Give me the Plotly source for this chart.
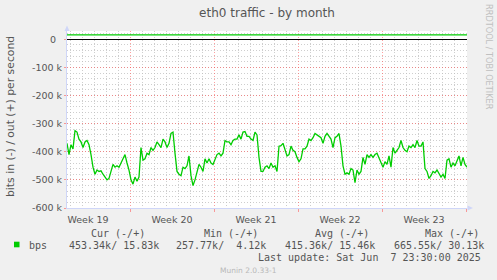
import pandas as pd
import plotly.graph_objects as go

# ---------------- data ----------------
title_text = "eth0 traffic - by month"
y_title = "bits in (-) / out (+) per second"
series_name = "bps"
series_color = "#00CC00"

start_time = "2025-05-06 18:00"   # first sample (4-hour consolidation)
step = "4h"
x_range = ["2025-05-06 18:00", "2025-06-09 02:00"]
week_tick0 = "2025-05-05"

# inbound (drawn negative), in kbit/s
bps_in_k = [
    -370, -410, -375, -390, -325, -330, -355, -365, -385, -365,
    -360, -375, -410, -455, -480, -465, -470, -468, -480, -490,
    -500, -495, -470, -445, -455, -450, -455, -440, -430, -410,
    -440, -465, -500, -515, -490, -505, -490, -385, -430, -425,
    -405, -410, -385, -395, -385, -365, -375, -385, -355, -365,
    -385, -370, -335, -330, -405, -470, -480, -485, -455, -460,
    -450, -415, -485, -520, -500, -475, -445, -455, -470, -425,
    -440, -425, -440, -445, -430, -410, -405, -415, -405, -360,
    -365, -365, -375, -360, -355, -355, -340, -355, -330, -328,
    -345, -345, -355, -360, -330, -340, -420, -470, -470, -455,
    -450, -460, -440, -455, -450, -470, -380, -378, -370, -395,
    -415, -410, -380, -395, -400, -420, -435, -425, -390, -390,
    -380, -355, -360, -350, -335, -340, -345, -350, -370, -345,
    -335, -345, -355, -385, -350, -345, -335, -380, -450, -480,
    -475, -480, -460, -465, -510, -465, -480, -470, -420, -445,
    -410, -420, -410, -420, -410, -405, -420, -435, -455, -435,
    -445, -415, -455, -385, -405, -395, -385, -360, -385, -395,
    -400, -380, -385, -375, -385, -360, -380, -380, -365, -460,
    -470, -495, -485, -470, -475, -465, -480, -490, -480, -495,
    -430, -425, -455, -440, -450, -430, -415, -450, -420, -445,
    -455,
]

# outbound, in kbit/s (nearly flat)
bps_out_k = [
    15.6, 15.5, 15.7, 15.6, 15.5, 15.6, 15.4, 15.5, 15.6, 15.5,
    15.5, 15.6, 15.5, 15.4, 15.5, 15.6, 15.5, 15.5, 15.4, 15.5,
    15.6, 15.5, 15.5, 15.6, 15.5, 15.4, 15.5, 15.6, 15.5, 15.5,
    15.4, 15.5, 15.6, 15.5, 15.5, 15.6, 15.5, 15.4, 15.5, 15.5,
    15.6, 15.5, 15.5, 15.4, 15.5, 15.6, 15.5, 15.5, 15.6, 15.5,
    15.5, 15.4, 15.5, 15.6, 15.5, 15.5, 15.4, 15.5, 15.6, 15.5,
    15.5, 15.6, 15.3, 14.2, 15.2, 14.4, 15.4, 15.5, 15.6, 15.5,
    15.4, 15.5, 15.6, 15.5, 15.5, 15.4, 15.5, 15.6, 15.5, 15.5,
    15.6, 15.5, 15.4, 15.5, 15.5, 15.6, 15.5, 15.5, 15.4, 15.5,
    15.6, 15.5, 15.5, 15.6, 15.5, 15.4, 15.5, 15.5, 15.6, 15.5,
    15.5, 15.4, 15.5, 15.6, 15.5, 15.5, 15.6, 15.5, 15.4, 15.5,
    15.5, 15.6, 15.5, 15.5, 15.4, 15.5, 15.6, 15.5, 15.5, 15.6,
    15.5, 15.4, 15.5, 15.5, 15.6, 15.5, 15.5, 15.4, 15.5, 15.6,
    15.5, 15.5, 15.6, 15.5, 15.4, 15.5, 15.5, 15.6, 15.5, 15.5,
    15.4, 15.5, 15.6, 15.5, 15.5, 15.6, 15.5, 15.4, 15.5, 15.5,
    15.6, 15.5, 15.5, 15.4, 15.5, 15.6, 15.5, 15.5, 15.6, 15.5,
    15.4, 15.5, 15.5, 15.6, 15.5, 15.5, 15.4, 15.5, 15.6, 15.5,
    15.5, 15.6, 15.5, 15.4, 15.5, 15.5, 15.6, 15.5, 15.5, 15.4,
    15.5, 15.6, 15.5, 15.5, 15.6, 15.5, 15.4, 15.5, 15.5, 15.6,
    15.5, 15.5, 15.4, 15.5, 15.6, 15.5, 15.5, 15.6, 15.5, 15.4,
    15.8,
]

y_tick_vals = [0, -100000, -200000, -300000, -400000, -500000, -600000]
y_tick_text = ["0\u00a0\u00a0", "-100 k", "-200 k", "-300 k", "-400 k", "-500 k", "-600 k"]
y_range = [-600000, 29400]

legend_headers = ["Cur (-/+)", "Min (-/+)", "Avg (-/+)", "Max (-/+)"]
legend_values = ["453.34k/ 15.83k", "257.77k/  4.12k", "415.36k/ 15.46k", "665.55k/ 30.13k"]
last_update = "Last update: Sat Jun  7 23:30:00 2025"
footer_text = "Munin 2.0.33-1"
side_text = "RRDTOOL / TOBI OETIKER"

# ---------------- figure ----------------
times = pd.date_range(start=start_time, periods=len(bps_in_k), freq=step)
times_out = pd.date_range(start=start_time, periods=len(bps_out_k), freq=step)

W, H = 497, 280
L, R, T, B = 67, 30, 31, 72
PW, PH = W - L - R, H - T - B


def px(x):
    return (x - L) / PW


def py(y):
    return (H - B - y) / PH


def nb(s):
    return s.replace(" ", "\u00a0")


FONT = "DejaVu Sans"
MONO = "DejaVu Sans Mono"
TXT = "#555555"

fig = go.Figure()
fig.add_trace(go.Scatter(x=times, y=[v * 1000 for v in bps_in_k], mode="lines",
                         line=dict(color=series_color, width=1.3), name=series_name,
                         showlegend=False, hoverinfo="skip"))
fig.add_trace(go.Scatter(x=times_out, y=[v * 1000 for v in bps_out_k], mode="lines",
                         line=dict(color=series_color, width=1.3), name=series_name,
                         showlegend=False, hoverinfo="skip"))

grid_minor = "rgba(190,190,190,0.75)"
grid_major = "rgba(255,80,80,0.55)"
axis_col = "#CFD6F8"

fig.update_layout(
    width=W, height=H,
    margin=dict(l=L, r=R, t=T, b=B, pad=0),
    paper_bgcolor="#F0F0F0",
    plot_bgcolor="#FFFFFF",
    font=dict(family=FONT, size=10, color=TXT),
    title=dict(text=title_text, x=248.5 / W, xanchor="center", xref="paper",
               y=1 - 13 / H, yanchor="middle", yref="container",
               font=dict(family=FONT, size=12, color=TXT)),
    xaxis=dict(
        type="date", range=x_range,
        tick0=week_tick0, dtick=7 * 86400000,
        ticklabelmode="period", tickformat="Week %V",
        showgrid=True, gridcolor=grid_major, griddash="1px,2px", gridwidth=1,
        ticks="outside", ticklen=3, tickcolor=grid_major,
        showline=True, linecolor=axis_col, linewidth=1,
        tickfont=dict(family=FONT, size=9.5, color=TXT),
        zeroline=False, fixedrange=True,
        minor=dict(dtick=86400000, tick0=week_tick0, showgrid=True,
                   gridcolor=grid_minor, griddash="1px,2px", gridwidth=1),
    ),
    yaxis=dict(
        range=y_range, tickvals=y_tick_vals, ticktext=y_tick_text,
        showgrid=True, gridcolor=grid_major, griddash="1px,2px", gridwidth=1,
        ticks="outside", ticklen=2, tickcolor=grid_major,
        showline=True, linecolor=axis_col, linewidth=1,
        zeroline=True, zerolinecolor="#000000", zerolinewidth=1,
        tickfont=dict(family=FONT, size=9.5, color=TXT),
        fixedrange=True,
        minor=dict(dtick=20000, tick0=0, showgrid=True,
                   gridcolor=grid_minor, griddash="1px,2px", gridwidth=1),
    ),
)

ann = []
# y axis title
ann.append(dict(text=y_title, x=px(10), y=py(117), xref="paper", yref="paper",
                textangle=-90, showarrow=False, xanchor="center", yanchor="middle",
                font=dict(family=FONT, size=10.8, color=TXT)))
# side watermark
ann.append(dict(text=side_text, x=px(489), y=py(57), xref="paper", yref="paper",
                textangle=90, showarrow=False, xanchor="center", yanchor="middle",
                font=dict(family=FONT, size=8.2, color="#C0C0C0")))
# legend headers
for t, x in zip(legend_headers, [89.3, 201.7, 312.7, 423.3]):
    ann.append(dict(text=nb(t), x=px(x), y=py(233.5), xref="paper", yref="paper",
                    showarrow=False, xanchor="left", yanchor="middle",
                    font=dict(family=MONO, size=10, color=TXT)))
ann.append(dict(text=series_name, x=px(26.5), y=py(245.5), xref="paper", yref="paper",
                showarrow=False, xanchor="left", yanchor="middle",
                font=dict(family=MONO, size=10, color=TXT)))
for t, x in zip(legend_values, [66.7, 174.3, 283.3, 391.7]):
    ann.append(dict(text=nb(t), x=px(x), y=py(245.5), xref="paper", yref="paper",
                    showarrow=False, xanchor="left", yanchor="middle",
                    font=dict(family=MONO, size=10, color=TXT)))
ann.append(dict(text=nb(last_update), x=px(483), y=py(257.5), xref="paper", yref="paper",
                showarrow=False, xanchor="right", yanchor="middle",
                font=dict(family=MONO, size=10, color=TXT)))
ann.append(dict(text=footer_text, x=px(248.5), y=py(270), xref="paper", yref="paper",
                showarrow=False, xanchor="center", yanchor="middle",
                font=dict(family=FONT, size=7.5, color="#B8B8B8")))
fig.update_layout(annotations=ann)

shapes = []
# legend colour box
shapes.append(dict(type="rect", xref="paper", yref="paper",
                   x0=px(14), x1=px(19.5), y0=py(247.3), y1=py(241.7),
                   fillcolor=series_color, line=dict(width=0)))
# axis arrows
shapes.append(dict(type="path", xref="paper", yref="paper",
                   path=f"M {px(64.5)} {py(31)} L {px(69.5)} {py(31)} L {px(67)} {py(25.5)} Z",
                   fillcolor=axis_col, line=dict(width=0)))
shapes.append(dict(type="path", xref="paper", yref="paper",
                   path=f"M {px(467.5)} {py(205.5)} L {px(467.5)} {py(210.5)} L {px(473)} {py(208)} Z",
                   fillcolor=axis_col, line=dict(width=0)))
fig.update_layout(shapes=shapes)

fig.write_html("out.html")
